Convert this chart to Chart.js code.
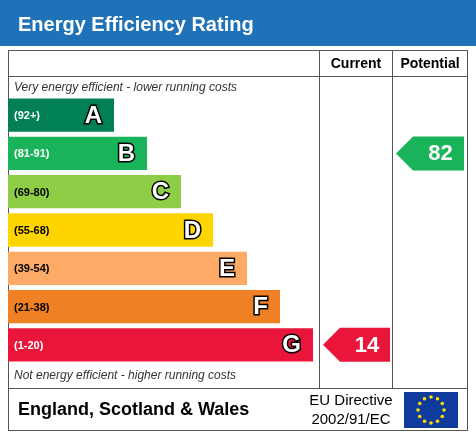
<!DOCTYPE html>
<html><head><meta charset="utf-8">
<script src="https://cdn.jsdelivr.net/npm/chart.js@4/dist/chart.umd.min.js"></script>
<style>html,body{margin:0;padding:0;background:#fff}#c{display:block}</style>
</head><body>
<canvas id="c" width="476" height="437"></canvas>
<script>
const bands = ['A','B','C','D','E','F','G'];
const ranges = ['(92+)','(81-91)','(69-80)','(55-68)','(39-54)','(21-38)','(1-20)'];
const barLength = [106,139,173,205,239,272,305];
const colors = ['#008054','#19b459','#8dce46','#ffd500','#fcaa65','#ef8023','#e9153b'];
const currentRating = 14, currentBand = 'G';
const potentialRating = 82, potentialBand = 'B';

const deco = {
  id:'deco',
  beforeDraw(ch){
    const c=ch.ctx;
    c.save();
    c.fillStyle='#fff';c.fillRect(0,0,476,437);
    c.fillStyle='#1f72b8';c.fillRect(0,0,476,46);
    c.fillStyle='#fff';c.font='bold 20px "Liberation Sans",Arial';c.textBaseline='middle';
    c.fillText('Energy Efficiency Rating',18,25);
    c.strokeStyle='#555';c.lineWidth=1;
    c.strokeRect(8.5,50.5,459,380);
    c.beginPath();
    c.moveTo(8,76.5);c.lineTo(468,76.5);
    c.moveTo(319.5,50);c.lineTo(319.5,388);
    c.moveTo(392.5,50);c.lineTo(392.5,388);
    c.moveTo(8,388.5);c.lineTo(468,388.5);
    c.stroke();
    c.fillStyle='#000';c.font='bold 14px "Liberation Sans",Arial';c.textAlign='center';
    c.fillText('Current',356,64);c.fillText('Potential',430,64);
    c.textAlign='left';c.font='italic 12px "Liberation Sans",Arial';c.fillStyle='#333';
    c.fillText('Very energy efficient - lower running costs',14,88);
    c.fillText('Not energy efficient - higher running costs',14,376);
    c.fillStyle='#000';c.font='bold 18px "Liberation Sans",Arial';
    c.fillText('England, Scotland & Wales',18,410);
    c.font='15px "Liberation Sans",Arial';c.textAlign='center';
    c.fillText('EU Directive',351,401);c.fillText('2002/91/EC',351,420);
    c.fillStyle='#0e3b9c';c.fillRect(404,392,54,36);
    c.fillStyle='#ffdd00';
    for(let i=0;i<12;i++){const a=i*Math.PI/6;c.beginPath();c.arc(431+13*Math.cos(a),410+13*Math.sin(a),1.8,0,7);c.fill();}
    c.restore();
  },
  afterDatasetsDraw(ch){
    const c=ch.ctx, y=ch.scales.y, x=ch.scales.x;
    c.save();c.textBaseline='middle';
    bands.forEach((b,i)=>{
      const py=y.getPixelForValue(i), end=x.getPixelForValue(barLength[i]);
      c.font='bold 11px "Liberation Sans",Arial';c.textAlign='left';
      c.fillStyle=(i<2||i==6)?'#fff':'#000';
      c.fillText(ranges[i],14,py+1);
      c.font='bold 24px "Liberation Sans",Arial';c.textAlign='right';
      c.lineWidth=3;c.strokeStyle='#000';c.strokeText(b,end-12,py+1);
      c.fillStyle='#fff';c.fillText(b,end-12,py+1);
    });
    function arrow(x0,x1,band,val,col){
      const py=y.getPixelForValue(bands.indexOf(band)), h=17;
      c.fillStyle=col;c.beginPath();
      c.moveTo(x0,py);c.lineTo(x0+h,py-h);c.lineTo(x1,py-h);c.lineTo(x1,py+h);c.lineTo(x0+h,py+h);c.closePath();c.fill();
      c.fillStyle='#fff';c.font='bold 22px "Liberation Sans",Arial';c.textAlign='center';
      c.fillText(String(val),(x0+h+x1)/2+2,py+1);
    }
    arrow(323,390,currentBand,currentRating,colors[bands.indexOf(currentBand)]);
    arrow(396,464,potentialBand,potentialRating,colors[bands.indexOf(potentialBand)]);
    c.restore();
  }
};

new Chart(document.getElementById('c'),{
  type:'bar',
  data:{labels:bands,datasets:[{data:barLength,backgroundColor:colors,barPercentage:0.87,categoryPercentage:1}]},
  options:{
    indexAxis:'y',responsive:false,animation:false,
    layout:{padding:{left:8,right:156,top:96,bottom:73}},
    plugins:{legend:{display:false},tooltip:{enabled:false}},
    scales:{x:{display:false,min:0,max:312},y:{display:false}}
  },
  plugins:[deco]
});
</script>
</body></html>
